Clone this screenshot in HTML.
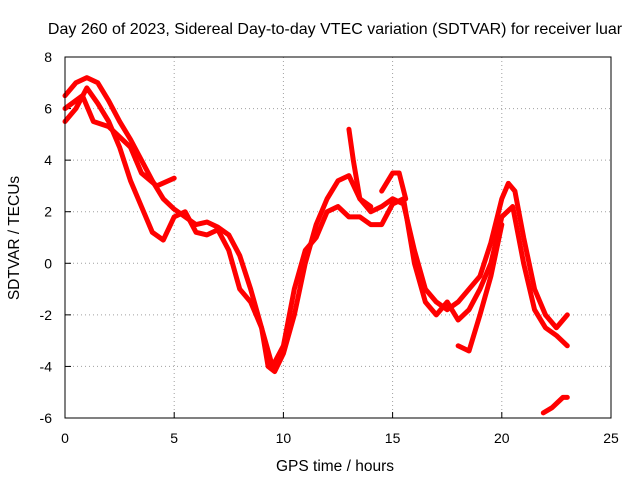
<!DOCTYPE html>
<html><head><meta charset="utf-8"><style>
body{margin:0;background:#fff}
text{font-family:"Liberation Sans",sans-serif;fill:#000}
</style></head><body>
<svg width="640" height="480" xmlns="http://www.w3.org/2000/svg">
<text x="335" y="34" font-size="16" text-anchor="middle">Day 260 of 2023, Sidereal Day-to-day VTEC variation (SDTVAR) for receiver luar</text>
<g id="grid"></g>
<g id="axes"></g>
<g id="series"></g>
<rect x="65" y="57" width="546" height="361" fill="none" stroke="#000" stroke-width="1"/>
<text x="335" y="471" font-size="15.5" text-anchor="middle">GPS time / hours</text>
<text transform="translate(19,238) rotate(-90)" font-size="15.5" text-anchor="middle">SDTVAR / TECUs</text>
</svg>
<script>
const xTicks=[0,5,10,15,20,25];
const yTicks=[-6,-4,-2,0,2,4,6,8];
const trackA=[[0,6.5],[0.5,7],[1,7.2],[1.5,7],[2,6.3],[2.5,5.5],[3,4.8],[3.5,4],[4,3.2],[4.5,2.5],[5,2.1],[5.5,1.8],[6,1.5],[6.5,1.6],[7,1.4],[7.5,1.1],[8,0.3],[8.5,-1],[9,-2.5],[9.3,-4],[9.6,-4.2],[10,-3.5],[10.5,-2],[11,0],[11.5,1.5],[12,2.5],[12.5,3.2],[13,3.4],[13.5,2.5],[14,2],[14.5,2.2],[15,2.5],[15.5,2.3],[16,0.5],[16.5,-1],[17,-1.5],[17.5,-1.8],[18,-1.5],[18.5,-1],[19,-0.5],[19.5,0.8],[20,2.5],[20.3,3.1],[20.6,2.8],[21,1],[21.5,-1],[22,-2],[22.5,-2.5],[23,-2]];
const trackB=[[0,5.5],[0.5,6],[1,6.8],[1.5,6.2],[2,5.5],[2.5,4.5],[3,3.2],[3.5,2.2],[4,1.2],[4.5,0.9],[5,1.8],[5.5,2],[6,1.2],[6.5,1.1],[7,1.3],[7.5,0.5],[8,-1],[8.5,-1.5],[9,-2.5],[9.5,-4],[10,-3.2],[10.5,-1],[11,0.5],[11.5,1],[12,2],[12.5,2.2],[13,1.8],[13.5,1.8],[14,1.5],[14.5,1.5],[15,2.3],[15.5,2.5],[16,0],[16.5,-1.5],[17,-2],[17.5,-1.5],[18,-2.2],[18.5,-1.8],[19,-1],[19.5,0],[20,1.8],[20.5,2.2],[21,0],[21.5,-1.8],[22,-2.5],[22.5,-2.8],[23,-3.2]];
const trackC=[[0,6],[0.8,6.5],[1.3,5.5],[2,5.3],[3,4.5],[3.5,3.5],[4.2,3],[5,3.3]];
const frag1=[[13,5.2],[13.2,4],[13.5,2.5],[14,2.2]];
const frag2=[[14.5,2.8],[15,3.5],[15.3,3.5],[15.6,2.5]];
const frag3=[[18,-3.2],[18.5,-3.4],[19,-2],[19.5,-0.5],[20,1.5]];
const frag4=[[21.9,-5.8],[22.3,-5.6],[22.8,-5.2],[23,-5.2]];
const X=v=>65+v*546/25, Y=v=>418-(v+6)*361/14;
const NS="http://www.w3.org/2000/svg";
function mk(t,a,p){const e=document.createElementNS(NS,t);for(const k in a)e.setAttribute(k,a[k]);p.appendChild(e);return e;}
const g=document.getElementById('grid'),ax=document.getElementById('axes'),s=document.getElementById('series');
xTicks.forEach(t=>{
 if(t>0&&t<25){const l=mk('line',{x1:X(t),x2:X(t),y1:57,y2:418,stroke:'#a0a0a0','stroke-dasharray':'1,3'},g);
 
 }
 const tk=mk('line',{x1:X(t),x2:X(t),y1:418,y2:412,stroke:'#000'},ax);
 
 
 const tx=mk('text',{x:X(t),y:443,'font-size':14,'text-anchor':'middle'},ax);tx.textContent=t;
 
 
});
yTicks.forEach(t=>{
 if(t>-6&&t<8){const l=mk('line',{x1:65,x2:611,y1:Y(t),y2:Y(t),stroke:'#a0a0a0','stroke-dasharray':'1,3'},g);
 
 }
 const tk=mk('line',{x1:65,x2:71,y1:Y(t),y2:Y(t),stroke:'#000'},ax);
 
 
 const tx=mk('text',{x:52,y:Y(t)+5,'font-size':14,'text-anchor':'end'},ax);tx.textContent=t;
 
 
});
[trackA,trackB,trackC,frag1,frag2,frag3,frag4].forEach((d,i)=>{
 const p=mk('polyline',{points:d.map(q=>X(q[0])+','+Y(q[1])).join(' '),fill:'none',stroke:'#ff0000','stroke-width':5,'stroke-linejoin':'round','stroke-linecap':'round'},s);
 
 
});
</script>
</body></html>
